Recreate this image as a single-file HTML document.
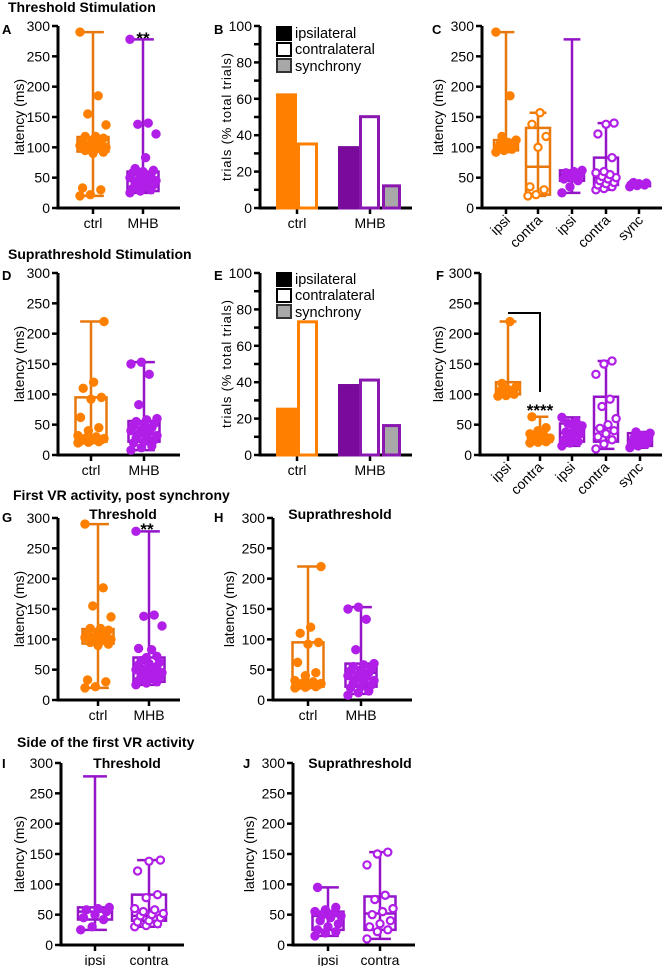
<!DOCTYPE html>
<html><head><meta charset="utf-8"><style>
html,body{margin:0;padding:0;background:#fff}
svg{display:block;font-family:"Liberation Sans",sans-serif}
.t{font-size:14px;text-anchor:end}
.c{font-size:14px;text-anchor:middle}
.b{font-weight:bold}
</style></head><body>
<svg id="s" width="666" height="966" viewBox="0 0 666 966">
<text x="8" y="12" class="b" font-size="14">Threshold Stimulation</text>
<text x="8" y="259" class="b" font-size="14">Suprathreshold Stimulation</text>
<text x="13" y="500" class="b" font-size="14">First VR activity, post synchrony</text>
<text x="17" y="747" class="b" font-size="14">Side of the first VR activity</text>
<g class="b" font-size="13">
<text x="2" y="34">A</text><text x="214" y="34">B</text><text x="432" y="34">C</text>
<text x="2" y="280">D</text><text x="214" y="280">E</text><text x="436" y="280">F</text>
<text x="2" y="522">G</text><text x="214" y="522">H</text><text x="2" y="768">I</text><text x="243" y="768">J</text>
</g>
<g class="b" font-size="14" text-anchor="middle">
<text x="123" y="519">Threshold</text><text x="340" y="519">Suprathreshold</text>
<text x="127" y="768">Threshold</text><text x="360" y="768">Suprathreshold</text>
</g>
<g class="b" font-size="17" text-anchor="middle">
<text x="143" y="44">**</text><text x="147" y="535">**</text><text x="540" y="416">****</text>
</g>
<g font-size="14" text-anchor="middle">
<text transform="translate(24,117) rotate(-90)">latency (ms)</text>
<text transform="translate(231,117) rotate(-90)" textLength="128" font-size="13">trials (% total trials)</text>
<text transform="translate(443,117) rotate(-90)">latency (ms)</text>
<text transform="translate(24,364) rotate(-90)">latency (ms)</text>
<text transform="translate(231,364) rotate(-90)" textLength="128" font-size="13">trials (% total trials)</text>
<text transform="translate(443,364) rotate(-90)">latency (ms)</text>
<text transform="translate(24,609) rotate(-90)">latency (ms)</text>
<text transform="translate(234,609) rotate(-90)">latency (ms)</text>
<text transform="translate(24,854) rotate(-90)">latency (ms)</text>
<text transform="translate(254,854) rotate(-90)">latency (ms)</text>
</g>
<!-- legends -->
<g font-size="14.5">
<rect x="276" y="26" width="16" height="15" fill="#000"/><text x="295" y="38">ipsilateral</text>
<rect x="277" y="43" width="14" height="13" fill="#fff" stroke="#000" stroke-width="2"/><text x="295" y="54">contralateral</text>
<rect x="277" y="59" width="14" height="13" fill="#a8a8a8" stroke="#333" stroke-width="2"/><text x="295" y="71">synchrony</text>
<rect x="276" y="272" width="16" height="15" fill="#000"/><text x="295" y="284">ipsilateral</text>
<rect x="277" y="289" width="14" height="13" fill="#fff" stroke="#000" stroke-width="2"/><text x="295" y="300">contralateral</text>
<rect x="277" y="305" width="14" height="13" fill="#a8a8a8" stroke="#333" stroke-width="2"/><text x="295" y="317">synchrony</text>
</g>
<!-- panels -->
<g id="A" transform="translate(58,208)"><g class="t"><text x="-8" y="5">0</text><text x="-8" y="-25.3">50</text><text x="-8" y="-55.7">100</text><text x="-8" y="-86">150</text><text x="-8" y="-116.3">200</text><text x="-8" y="-146.7">250</text><text x="-8" y="-177">300</text></g><g class="c"><text x="35" y="20">ctrl</text><text x="85" y="20">MHB</text></g></g>
<g id="B" transform="translate(260,208)"><g class="t"><text x="-8" y="5">0</text><text x="-8" y="-31.4">20</text><text x="-8" y="-67.8">40</text><text x="-8" y="-104.2">60</text><text x="-8" y="-140.6">80</text><text x="-8" y="-177">100</text></g><g class="c"><text x="37" y="20">ctrl</text><text x="110" y="20">MHB</text></g></g>
<g id="C" transform="translate(482,208)"><g class="t"><text x="-8" y="5">0</text><text x="-8" y="-25.3">50</text><text x="-8" y="-55.7">100</text><text x="-8" y="-86">150</text><text x="-8" y="-116.3">200</text><text x="-8" y="-146.7">250</text><text x="-8" y="-177">300</text></g>
<g class="t"><text transform="translate(29,13) rotate(-45)">ipsi</text><text transform="translate(61,13) rotate(-45)">contra</text><text transform="translate(95,13) rotate(-45)">ipsi</text><text transform="translate(129,13) rotate(-45)">contra</text><text transform="translate(162,13) rotate(-45)">sync</text></g></g>
<g id="D" transform="translate(58,455)"><g class="t"><text x="-8" y="5">0</text><text x="-8" y="-25.3">50</text><text x="-8" y="-55.7">100</text><text x="-8" y="-86">150</text><text x="-8" y="-116.3">200</text><text x="-8" y="-146.7">250</text><text x="-8" y="-177">300</text></g><g class="c"><text x="33" y="20">ctrl</text><text x="86" y="20">MHB</text></g></g>
<g id="E" transform="translate(260,455)"><g class="t"><text x="-8" y="5">0</text><text x="-8" y="-31.4">20</text><text x="-8" y="-67.8">40</text><text x="-8" y="-104.2">60</text><text x="-8" y="-140.6">80</text><text x="-8" y="-177">100</text></g><g class="c"><text x="37" y="20">ctrl</text><text x="110" y="20">MHB</text></g></g>
<g id="F" transform="translate(480,455)"><g class="t"><text x="-8" y="5">0</text><text x="-8" y="-25.3">50</text><text x="-8" y="-55.7">100</text><text x="-8" y="-86">150</text><text x="-8" y="-116.3">200</text><text x="-8" y="-146.7">250</text><text x="-8" y="-177">300</text></g>
<g class="t"><text transform="translate(32,13) rotate(-45)">ipsi</text><text transform="translate(64,13) rotate(-45)">contra</text><text transform="translate(96,13) rotate(-45)">ipsi</text><text transform="translate(130,13) rotate(-45)">contra</text><text transform="translate(164,13) rotate(-45)">sync</text></g></g>
<g id="G" transform="translate(58,700)"><g class="t"><text x="-8" y="5">0</text><text x="-8" y="-25.3">50</text><text x="-8" y="-55.7">100</text><text x="-8" y="-86">150</text><text x="-8" y="-116.3">200</text><text x="-8" y="-146.7">250</text><text x="-8" y="-177">300</text></g><g class="c"><text x="40" y="20">ctrl</text><text x="91" y="20">MHB</text></g></g>
<g id="H" transform="translate(273,700)"><g class="t"><text x="-8" y="5">0</text><text x="-8" y="-25.3">50</text><text x="-8" y="-55.7">100</text><text x="-8" y="-86">150</text><text x="-8" y="-116.3">200</text><text x="-8" y="-146.7">250</text><text x="-8" y="-177">300</text></g><g class="c"><text x="35" y="20">ctrl</text><text x="88" y="20">MHB</text></g></g>
<g id="I" transform="translate(61,945)"><g class="t"><text x="-8" y="5">0</text><text x="-8" y="-25.3">50</text><text x="-8" y="-55.7">100</text><text x="-8" y="-86">150</text><text x="-8" y="-116.3">200</text><text x="-8" y="-146.7">250</text><text x="-8" y="-177">300</text></g><g class="c"><text x="34" y="20">ipsi</text><text x="88" y="20">contra</text></g></g>
<g id="J" transform="translate(293,945)"><g class="t"><text x="-8" y="5">0</text><text x="-8" y="-25.3">50</text><text x="-8" y="-55.7">100</text><text x="-8" y="-86">150</text><text x="-8" y="-116.3">200</text><text x="-8" y="-146.7">250</text><text x="-8" y="-177">300</text></g><g class="c"><text x="35" y="20">ipsi</text><text x="87" y="20">contra</text></g></g>
<path d="M508,313H540V392" stroke="#000" stroke-width="2" fill="none"/>
</svg>
<script>
const NS='http://www.w3.org/2000/svg';
function el(p,t,a){const e=document.createElementNS(NS,t);for(const k in a)e.setAttribute(k,a[k]);p.appendChild(e);return e;}
const OR='#ff8000',ORL='#e8780c',PU='#b01ee8',PUL='#9414c8';
function axes(id,w,n,cats,minor){const g=document.getElementById(id);
 el(g,'path',{d:`M0,-182V0H${w}`,stroke:'#000','stroke-width':3,fill:'none'});
 const m=minor?n*2:n;
 for(let i=0;i<=m;i++){const y=-i*182/m;el(g,'line',{x1:-6,x2:0,y1:y,y2:y,stroke:'#000','stroke-width':2.5});}
 cats.forEach(c=>el(g,'line',{x1:c,x2:c,y1:0,y2:6,stroke:'#000','stroke-width':2.5}));return g;}
const s=v=>-v*182/300;
function box(id,cx,bw,lo,q1,md,q3,hi,col,dcol,dots,open){const g=document.getElementById(id);
 el(g,'line',{x1:cx,x2:cx,y1:s(lo),y2:s(hi),stroke:col,'stroke-width':2.5});
 [lo,hi].forEach(v=>el(g,'line',{x1:cx-bw*0.35,x2:cx+bw*0.35,y1:s(v),y2:s(v),stroke:col,'stroke-width':2.5}));
 el(g,'rect',{x:cx-bw/2,y:s(q3),width:bw,height:s(q1)-s(q3),fill:'none',stroke:col,'stroke-width':2.5});
 el(g,'line',{x1:cx-bw/2,x2:cx+bw/2,y1:s(md),y2:s(md),stroke:col,'stroke-width':2.5});
 dots.forEach((v,i)=>{const dx=(((i*37)%11)-5)/5*bw*0.42;
  el(g,'circle',{cx:cx+dx,cy:s(v),r:open?3.6:4.2,fill:open?'#fff':dcol,stroke:dcol,'stroke-width':open?2.2:1});});}
function bar(id,x0,x1,v,fill,stroke){const g=document.getElementById(id);const h=v*182/100;
 el(g,'rect',{x:x0+1.5,y:-h+1.5,width:x1-x0-3,height:h-1.5,fill:fill,stroke:stroke,'stroke-width':3});}
const Actrl=[20,22,30,33,90,92,95,97,100,100,102,103,105,108,110,112,115,118,118,137,155,185,290];
const Amhb=[25,28,30,32,35,38,40,42,45,45,48,50,52,55,58,60,62,65,83,122,138,140,278];
const Dctrl=[20,21,22,23,24,25,25,26,27,28,30,32,40,45,62,92,95,110,120,220];
const Dmhb=[8,12,15,20,22,25,28,30,32,35,38,40,42,45,48,50,52,55,58,60,83,133,150,153];
const BW=31;
axes('A',122,6,[35,85]);box('A',35,BW,20,93,103,117,290,ORL,OR,Actrl);box('A',85,BW,25,28,45,60,278,PUL,PU,Amhb);
axes('B',152,5,[37,110],true);bar('B',16,37,63,OR,OR);bar('B',37,58,36,'#fff',OR);bar('B',78,99,34,'#7a0a9c','#7a0a9c');bar('B',99,120,51,'#fff','#8a18b0');bar('B',122,141,13,'#a8a8a8','#8a18b0');
axes('C',180,6,[24,56,90,124,157]);
box('C',24,24,92,95,100,112,290,ORL,OR,[92,95,97,100,100,102,105,108,112,118,185,290]);
box('C',56,24,20,22,68,132,157,ORL,OR,[20,22,30,35,100,118,138,157],true);
box('C',90,24,25,45,55,62,278,PUL,PU,[25,35,45,48,50,55,58,60,62]);
box('C',124,24,30,38,50,83,140,PUL,PU,[30,32,35,38,40,42,45,48,50,52,55,58,60,83,122,138,140],true);
box('C',157,22,35,36,38,41,42,PUL,PU,[35,37,38,39,40,41,42]);
axes('D',122,6,[33,86]);box('D',33,BW,20,22,27,95,220,ORL,OR,Dctrl);box('D',86,BW,8,22,35,56,153,PUL,PU,Dmhb);
axes('E',152,5,[37,110],true);bar('E',16,37,26,OR,OR);bar('E',37,58,74,'#fff',OR);bar('E',78,99,39,'#7a0a9c','#7a0a9c');bar('E',99,120,42,'#fff','#8a18b0');bar('E',122,141,17,'#a8a8a8','#8a18b0');
axes('F',182,6,[28,60,92,126,160]);
box('F',28,24,97,100,108,120,220,ORL,OR,[97,98,100,105,108,112,118,220]);
box('F',60,24,20,22,27,32,63,ORL,OR,[20,21,22,23,24,25,26,27,28,30,32,35,40,45,63]);
box('F',92,24,15,22,36,52,62,PUL,PU,[15,20,22,25,30,35,38,42,48,52,55,62]);
box('F',126,24,10,22,44,96,155,PUL,PU,[10,18,25,30,35,40,44,50,60,80,92,133,150,155],true);
box('F',160,24,12,15,25,36,38,PUL,PU,[12,15,18,20,22,25,28,32,36,38]);
axes('G',122,6,[40,91]);box('G',40,BW,20,93,103,117,290,ORL,OR,Actrl);box('G',91,BW,25,30,50,70,278,PUL,PU,Amhb.concat([70,72,85]));
axes('H',139,6,[35,88]);box('H',35,BW,20,22,27,95,220,ORL,OR,Dctrl);box('H',88,BW,10,22,45,60,153,PUL,PU,Dmhb);
axes('I',123,6,[34,88]);box('I',34,34,25,42,55,62,278,PUL,PU,[25,30,42,45,50,55,58,60,62]);
box('I',88,34,30,40,48,83,140,PUL,PU,[30,32,35,38,40,45,48,50,52,55,58,60,78,83,122,138,140],true);
axes('J',122,6,[35,87]);box('J',35,BW,15,25,48,55,95,PUL,PU,[15,20,22,25,30,35,40,45,48,50,52,55,58,62,95]);
box('J',87,BW,10,25,52,80,153,PUL,PU,[10,22,25,30,35,40,50,55,60,75,82,132,150,153],true);
</script>
</body></html>
